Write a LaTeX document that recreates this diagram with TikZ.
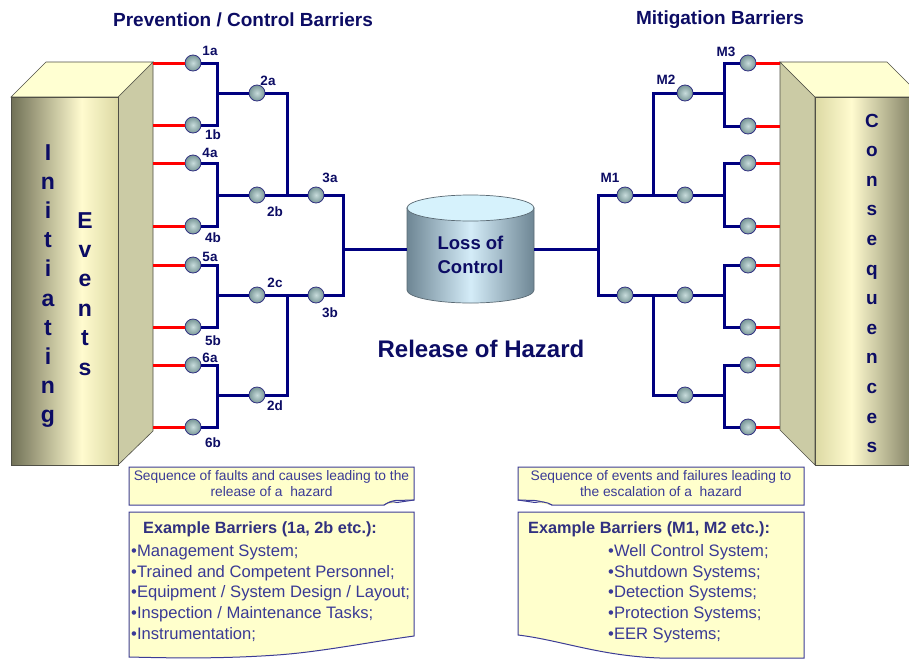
\documentclass[tikz,border=0pt]{standalone}
\usepackage{fontspec}
\setmainfont{Liberation Sans}
\definecolor{mynavy}{RGB}{0,0,128}
\definecolor{txtnavy}{RGB}{12,12,100}
\definecolor{boxtxt}{RGB}{58,58,150}
\definecolor{boxline}{RGB}{60,60,150}
\definecolor{noteY}{RGB}{255,255,204}
\definecolor{olvD}{RGB}{112,112,86}
\definecolor{olvL}{RGB}{255,251,207}
\definecolor{olvM}{RGB}{220,217,164}
\definecolor{sidec}{RGB}{203,203,165}
\definecolor{topc}{RGB}{255,255,210}
\definecolor{edgec}{RGB}{80,80,70}
\definecolor{ballL}{RGB}{200,220,220}
\definecolor{ballD}{RGB}{120,150,150}
\definecolor{ballE}{RGB}{50,50,130}
\definecolor{cylD}{RGB}{110,134,148}
\definecolor{cylL}{RGB}{212,236,248}
\definecolor{cylTop}{RGB}{214,242,252}
\definecolor{cylE}{RGB}{90,106,116}
\pgfdeclarehorizontalshading{frontL}{100bp}{color(0bp)=(olvD); color(25bp)=(olvD); color(58bp)=(olvL); color(75bp)=(olvM); color(100bp)=(olvM)}
\pgfdeclarehorizontalshading{frontR}{100bp}{color(0bp)=(olvM); color(25bp)=(olvM); color(42bp)=(olvL); color(75bp)=(olvD); color(100bp)=(olvD)}
\tikzset{
  barrier/.style={circle, minimum size=16pt, inner sep=0pt, draw=ballE, line width=0.8pt, inner color=ballL, outer color=ballD},
  blu/.style={draw=mynavy, line width=3pt},
  rd/.style={draw=red, line width=3pt},
  lbl/.style={font=\bfseries\fontsize{13.5}{13.5}\selectfont, text=txtnavy, inner sep=0pt},
  ttl/.style={font=\bfseries\fontsize{19}{19}\selectfont, text=txtnavy, inner sep=0pt},
  bigttl/.style={font=\bfseries\fontsize{24}{24}\selectfont, text=txtnavy, inner sep=0pt},
  bletter/.style={font=\bfseries\fontsize{23}{23}\selectfont, text=txtnavy, inner sep=0pt, anchor=base},
  cletter/.style={font=\bfseries\fontsize{19}{19}\selectfont, text=txtnavy, inner sep=0pt, anchor=base},
  notebox/.style={fill=noteY, draw=boxline, line width=1pt},
  notetxt/.style={font=\fontsize{13.8}{16}\selectfont, text=boxtxt, inner sep=0pt, align=center},
  exttl/.style={font=\bfseries\fontsize{16.3}{16}\selectfont, text=boxtxt!85!black, inner sep=0pt, anchor=west},
  extxt/.style={font=\fontsize{16.6}{16}\selectfont, text=boxtxt, inner sep=0pt, anchor=west},
}
\begin{document}
\begin{tikzpicture}[x=1pt,y=-1pt]
\clip (0,0) rectangle (909,659);
\fill[white] (0,0) rectangle (909,659);

% ---------- left block ----------
\path[fill=sidec, draw=edgec, line width=0.6pt] (118,97) -- (153,62) -- (153,431) -- (118,465) -- cycle;
\path[fill=topc, draw=edgec, line width=0.6pt] (11,97) -- (46,62) -- (153,62) -- (118,97) -- cycle;
\path[shading=frontL, draw=edgec, line width=0.8pt] (11,97) rectangle (118,465);
\foreach \ch [count=\i] in {I,n,i,t,i,a,t,i,n,g}
  \node[bletter] (ini\i) at (48,{160+29.2*(\i-1)}) {\ch};
\foreach \ch [count=\i] in {E,v,e,n,t,s}
  \node[bletter] (evt\i) at (85,{228+29.4*(\i-1)}) {\ch};

% ---------- right block ----------
\path[fill=sidec, draw=edgec, line width=0.6pt] (780,62) -- (815,97) -- (815,465) -- (780,430) -- cycle;
\path[fill=topc, draw=edgec, line width=0.6pt] (780,62) -- (887,62) -- (922,97) -- (815,97) -- cycle;
\path[shading=frontR, draw=edgec, line width=0.8pt] (815,97) rectangle (922,465);
\foreach \ch [count=\i] in {C,o,n,s,e,q,u,e,n,c,e,s}
  \node[cletter] (con\i) at (872,{127+29.6*(\i-1)}) {\ch};

% ---------- titles ----------
\node[ttl] (tleft) at (243,20) {Prevention / Control Barriers};
\node[ttl] (tright) at (720,20) {Mitigation Barriers};
\node[bigttl] (release) at (481,349) {Release of Hazard};

% ---------- cylinder ----------
\path[left color=cylD, right color=cylD, middle color=cylL, draw=cylE, line width=0.7pt]
  (407,208) -- (407,290) arc[start angle=180, end angle=360, x radius=63.5pt, y radius=13pt] -- (534,208) -- cycle;
\path[fill=cylTop, draw=cylE, line width=0.7pt] (470.5,208) ellipse[x radius=63.5pt, y radius=13pt];
\node[minimum width=127pt, minimum height=95pt, inner sep=0pt] (cyl) at (470.5,249) {};
\node[font=\bfseries\fontsize{18.5}{24}\selectfont, text=txtnavy, align=center, inner sep=0pt] (cyltxt) at (470.5,255) {Loss of\\Control};

% ---------- left barriers ----------
\node[barrier] (c1a) at (193,63) {};
\node[barrier] (c1b) at (193,125) {};
\node[barrier] (c4a) at (193,163) {};
\node[barrier] (c4b) at (193,226) {};
\node[barrier] (c5a) at (193,265) {};
\node[barrier] (c5b) at (193,327) {};
\node[barrier] (c6a) at (193,365) {};
\node[barrier] (c6b) at (193,427) {};
\node[barrier] (c2a) at (257,93) {};
\node[barrier] (c2b) at (257,195) {};
\node[barrier] (c2c) at (257,295) {};
\node[barrier] (c2d) at (257,395) {};
\node[barrier] (c3a) at (316,195) {};
\node[barrier] (c3b) at (316,295) {};

\coordinate (LE) at (153,0);
\coordinate (ja1) at (217,93);
\coordinate (ja2) at (217,195);
\coordinate (ja3) at (217,295);
\coordinate (ja4) at (217,395);
\coordinate (jb1) at (287,195);
\coordinate (jb2) at (287,295);
\coordinate (jc) at (343,249);

\foreach \n in {1a,1b,4a,4b,5a,5b,6a,6b}
  \draw[rd] (LE |- c\n) -- (c\n.west);

\draw[blu] (c1a.east) -| (ja1) |- (c1b.east);
\draw[blu] (ja1) -- (c2a.west);
\draw[blu] (c4a.east) -| (ja2) |- (c4b.east);
\draw[blu] (ja2) -- (c2b.west);
\draw[blu] (c5a.east) -| (ja3) |- (c5b.east);
\draw[blu] (ja3) -- (c2c.west);
\draw[blu] (c6a.east) -| (ja4) |- (c6b.east);
\draw[blu] (ja4) -- (c2d.west);
\draw[blu] (c2a.east) -| (jb1);
\draw[blu] (c2b.east) -- (c3a.west);
\draw[blu] (c2d.east) -| (jb2);
\draw[blu] (c2c.east) -- (c3b.west);
\draw[blu] (c3a.east) -| (jc) |- (c3b.east);
\draw[blu] (jc) -- (cyl.west |- jc);

% ---------- right barriers ----------
\node[barrier] (m1) at (625,195) {};
\node[barrier] (n1) at (625,295) {};
\node[barrier] (m2) at (685,93) {};
\node[barrier] (m2b) at (685,195) {};
\node[barrier] (n2) at (685,295) {};
\node[barrier] (n3) at (685,395) {};
\node[barrier] (r1) at (748,63) {};
\node[barrier] (r2) at (748,126) {};
\node[barrier] (r3) at (748,163) {};
\node[barrier] (r4) at (748,226) {};
\node[barrier] (r5) at (748,265) {};
\node[barrier] (r6) at (748,327) {};
\node[barrier] (r7) at (748,365) {};
\node[barrier] (r8) at (748,427) {};

\coordinate (RE) at (780,0);
\coordinate (jm) at (598,249);
\coordinate (k1) at (653,195);
\coordinate (k4) at (653,295);
\coordinate (k2) at (724,93);
\coordinate (k3) at (724,195);
\coordinate (k5) at (724,295);
\coordinate (k6) at (724,395);

\foreach \n in {1,...,8}
  \draw[rd] (r\n.east) -- (RE |- r\n);

\draw[blu] (cyl.east |- jm) -- (jm);
\draw[blu] (m1.west) -| (jm) |- (n1.west);
\draw[blu] (m1.east) -- (m2b.west);
\draw[blu] (m2.west) -| (k1);
\draw[blu] (n1.east) -- (n2.west);
\draw[blu] (n3.west) -| (k4);
\draw[blu] (m2.east) -- (k2);
\draw[blu] (r1.west) -| (k2) |- (r2.west);
\draw[blu] (m2b.east) -- (k3);
\draw[blu] (r3.west) -| (k3) |- (r4.west);
\draw[blu] (n2.east) -- (k5);
\draw[blu] (r5.west) -| (k5) |- (r6.west);
\draw[blu] (n3.east) -- (k6);
\draw[blu] (r7.west) -| (k6) |- (r8.west);

% ---------- labels ----------
\node[lbl] (l1a) at (210,51) {1a};
\node[lbl] (l1b) at (213,135) {1b};
\node[lbl] (l2a) at (268,81) {2a};
\node[lbl] (l2b) at (275,212) {2b};
\node[lbl] (l3a) at (330,178) {3a};
\node[lbl] (l4a) at (210,153) {4a};
\node[lbl] (l4b) at (213,238) {4b};
\node[lbl] (l5a) at (210,257) {5a};
\node[lbl] (l5b) at (213,341) {5b};
\node[lbl] (l6a) at (210,358) {6a};
\node[lbl] (l6b) at (213,443) {6b};
\node[lbl] (l2c) at (275,283) {2c};
\node[lbl] (l2d) at (275,406) {2d};
\node[lbl] (l3b) at (330,313) {3b};
\node[lbl] (lm3) at (726,52) {M3};
\node[lbl] (lm2) at (666,80) {M2};
\node[lbl] (lm1) at (610,178) {M1};

% ---------- note boxes ----------
\path[notebox] (129,467) -- (414,467) -- (414,500) -- (395,500.5) .. controls (390,501.5) and (387,503) .. (384,505) -- (129,505) -- cycle;
\path[notebox] (384,505) .. controls (389,502) and (392,501) .. (397,502.5) -- (414,500);
\node[notetxt] (nleft) at (271.5,484) {Sequence of faults and causes leading to the\\release of a\ \ hazard};

\path[notebox] (518,467) -- (804,467) -- (804,505) -- (552,505) .. controls (547,503) and (540,501) .. (535,500.5) -- (518,500) -- cycle;
\path[notebox] (552,505) .. controls (547,502) and (540,501) .. (535,502.5) -- (518,500);
\node[notetxt] (nright) at (661,484) {Sequence of events and failures leading to\\the escalation of a\ \ hazard};

\path[notebox] (129,512) -- (414,512) -- (414,636) .. controls (370,642) and (320,652) .. (277,655) .. controls (220,659) and (170,658) .. (129,657) -- cycle;
\node[exttl] (exl) at (143,529) {Example Barriers (1a, 2b etc.):};
\foreach \t [count=\i] in {Management System;, Trained and Competent Personnel;, Equipment / System Design / Layout;, Inspection / Maintenance Tasks;, Instrumentation;}
  \node[extxt] (exl\i) at (131,{552+20.75*(\i-1)}) {\textbullet\t};

\path[notebox] (518,512) -- (804,512) -- (804,658) -- (660,658) .. controls (600,656) and (560,640) .. (518,635) -- cycle;
\node[exttl] (exr) at (528,529) {Example Barriers (M1, M2 etc.):};
\foreach \t [count=\i] in {Well Control System;, Shutdown Systems;, Detection Systems;, Protection Systems;, EER Systems;}
  \node[extxt] (exr\i) at (608,{552+20.75*(\i-1)}) {\textbullet\t};
\end{tikzpicture}
\end{document}
